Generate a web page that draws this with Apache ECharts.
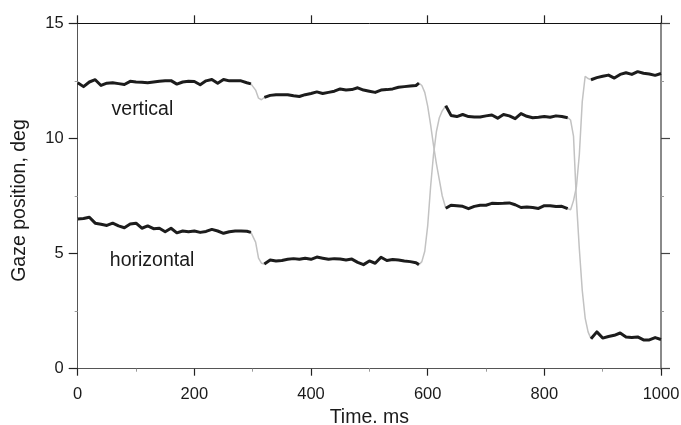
<!DOCTYPE html>
<html>
<head>
<meta charset="utf-8">
<script src="https://cdn.jsdelivr.net/npm/echarts@6/dist/echarts.min.js"></script>
<style>
html,body{margin:0;padding:0;background:#fff;}
#chart{width:681px;height:425px;}
</style>
</head>
<body>
<div id="chart"></div>
<script>
// ---- data ----
const timeMs = [
  0,10,20,30,40,50,60,70,80,90,100,110,120,130,140,150,160,170,180,190,200,210,220,230,240,250,260,270,280,290,
  297,300,305,310,315,
  320,330,340,350,360,370,380,390,400,410,420,430,440,450,460,470,480,490,500,510,520,530,540,550,560,570,580,
  585,590,595,600,605,610,615,620,625,
  631,
  640,650,660,670,680,690,700,710,720,730,740,750,760,770,780,790,800,810,820,830,840,
  845,850,855,860,865,870,875,
  880,890,900,910,920,930,940,950,960,970,980,990,1000
];
const verticalDeg = [
  12.42,12.25,12.45,12.55,12.30,12.40,12.42,12.38,12.34,12.48,12.45,12.44,12.42,12.45,12.48,12.50,12.51,12.36,12.45,12.48,12.47,12.33,12.50,12.56,12.40,12.56,12.50,12.50,12.50,12.42,
  12.37,12.30,12.10,11.75,11.68,
  11.78,11.87,11.90,11.90,11.90,11.85,11.82,11.90,11.95,12.02,11.95,12.00,12.05,12.15,12.10,12.12,12.20,12.10,12.05,12.00,12.10,12.12,12.15,12.22,12.25,12.28,12.30,
  12.40,12.30,12.00,11.40,10.60,9.70,8.90,8.20,7.50,
  6.97,
  7.10,7.08,7.05,6.95,7.05,7.10,7.10,7.18,7.17,7.18,7.20,7.12,7.00,7.02,7.00,6.96,7.08,7.08,7.04,7.05,6.95,
  6.90,7.30,7.90,9.30,11.60,12.70,12.60,
  12.55,12.64,12.70,12.75,12.62,12.78,12.85,12.78,12.90,12.83,12.80,12.74,12.82
];
const horizontalDeg = [
  6.50,6.52,6.58,6.32,6.27,6.22,6.32,6.20,6.12,6.28,6.32,6.10,6.20,6.08,6.10,5.95,6.10,5.90,5.98,5.95,5.98,5.92,5.96,6.05,5.98,5.88,5.95,5.98,5.98,5.97,
  5.92,5.85,5.50,4.80,4.58,
  4.55,4.72,4.68,4.70,4.75,4.78,4.75,4.80,4.75,4.85,4.80,4.75,4.78,4.76,4.72,4.76,4.62,4.52,4.68,4.58,4.84,4.70,4.74,4.72,4.68,4.65,4.60,
  4.52,4.65,5.10,6.20,7.90,9.30,10.30,10.90,11.20,
  11.42,
  11.00,10.95,11.04,10.95,10.93,10.93,10.98,11.02,10.88,11.04,10.98,10.86,11.08,10.96,10.90,10.92,10.95,10.92,10.98,10.95,10.90,
  10.80,10.10,7.30,5.20,3.40,2.20,1.60,
  1.30,1.60,1.33,1.40,1.45,1.55,1.38,1.36,1.38,1.25,1.25,1.35,1.27
];
// fixation intervals (ms) drawn as thick black segments
const fixations = [[0,297],[320,585],[631,840],[880,1000]];
// in-plot labels: [time, position, text]
const annotations = [[58, 11.23, 'vertical'], [55, 4.70, 'horizontal']];
const xTitle = 'Time. ms';
const yTitle = 'Gaze position, deg';

// ---- build ----
const inFix = t => fixations.some(f => t >= f[0] && t <= f[1]);
const full = vals => timeMs.map((t, i) => [t, vals[i]]);
const fix = vals => timeMs.map((t, i) => [t, inFix(t) ? vals[i] : '-']);

const FONT = '"Liberation Sans", Arial, Helvetica, sans-serif';
const TXT = '#1a1a1a';
const chart = echarts.init(document.getElementById('chart'), null, {renderer: 'canvas'});

const grayLine = {color: '#c2c2c2', width: 1.5};
const blackLine = {color: '#1c1c1c', width: 3, join: 'round'};
const plain = v => String(v);

chart.setOption({
  animation: false,
  backgroundColor: '#ffffff',
  grid: {left: 77.7, right: 20, top: 23.3, bottom: 56.3, containLabel: false, outerBoundsMode: 'none'},
  xAxis: [
    {
      type: 'value', position: 'bottom', min: 0, max: 1000, interval: 200,
      name: xTitle, nameLocation: 'middle', nameGap: 39,
      nameTextStyle: {fontFamily: FONT, fontSize: 19.5, color: TXT},
      axisLine: {show: true, onZero: false, lineStyle: {color: '#555', width: 1}},
      axisTick: {show: true, inside: false, length: 7, lineStyle: {color: '#222', width: 1.2}},
      minorTick: {show: true, splitNumber: 2, length: 3, lineStyle: {color: '#999', width: 1}},
      axisLabel: {fontFamily: FONT, fontSize: 16.5, color: TXT, margin: 17, formatter: plain},
      splitLine: {show: false}
    },
    {
      type: 'value', position: 'top', min: 0, max: 1000, interval: 200,
      axisLine: {show: true, onZero: false, lineStyle: {color: '#111', width: 1}},
      axisTick: {show: true, inside: false, length: 8, lineStyle: {color: '#222', width: 1.2}},
      axisLabel: {show: false},
      splitLine: {show: false}
    }
  ],
  yAxis: [
    {
      type: 'value', position: 'left', min: 0, max: 15, interval: 5,
      name: yTitle, nameLocation: 'middle', nameGap: 48, nameRotate: 90,
      nameTextStyle: {fontFamily: FONT, fontSize: 19.5, color: TXT, padding: [0, 9, 0, 0]},
      axisLine: {show: true, onZero: false, lineStyle: {color: '#555', width: 1}},
      axisTick: {show: true, inside: false, length: 9, lineStyle: {color: '#222', width: 1.2}},
      minorTick: {show: true, splitNumber: 2, length: 3, lineStyle: {color: '#999', width: 1}},
      axisLabel: {fontFamily: FONT, fontSize: 16.5, color: TXT, margin: 14, formatter: plain},
      splitLine: {show: false}
    },
    {
      type: 'value', position: 'right', min: 0, max: 15, interval: 5,
      axisLine: {show: true, onZero: false, lineStyle: {color: '#8a8a8a', width: 2}},
      axisTick: {show: true, inside: false, length: 9, lineStyle: {color: '#444', width: 1.2}},
      minorTick: {show: true, splitNumber: 2, length: 3, lineStyle: {color: '#999', width: 1}},
      axisLabel: {show: false},
      splitLine: {show: false}
    }
  ],
  series: [
    {type: 'line', name: 'vertical trace', data: full(verticalDeg), showSymbol: false, symbol: 'none', lineStyle: grayLine, z: 2},
    {type: 'line', name: 'horizontal trace', data: full(horizontalDeg), showSymbol: false, symbol: 'none', lineStyle: grayLine, z: 2},
    {type: 'line', name: 'vertical fixations', data: fix(verticalDeg), showSymbol: false, symbol: 'none', connectNulls: false, lineStyle: blackLine, z: 3},
    {type: 'line', name: 'horizontal fixations', data: fix(horizontalDeg), showSymbol: false, symbol: 'none', connectNulls: false, lineStyle: blackLine, z: 3},
    {
      type: 'scatter', name: 'labels', data: annotations, symbolSize: 0, z: 4, silent: true,
      itemStyle: {opacity: 1},
      label: {
        show: true, position: 'right', distance: 0, opacity: 1,
        formatter: p => p.data[2],
        fontFamily: FONT, fontSize: 19.5, color: TXT
      }
    }
  ]
});
</script>
</body>
</html>
